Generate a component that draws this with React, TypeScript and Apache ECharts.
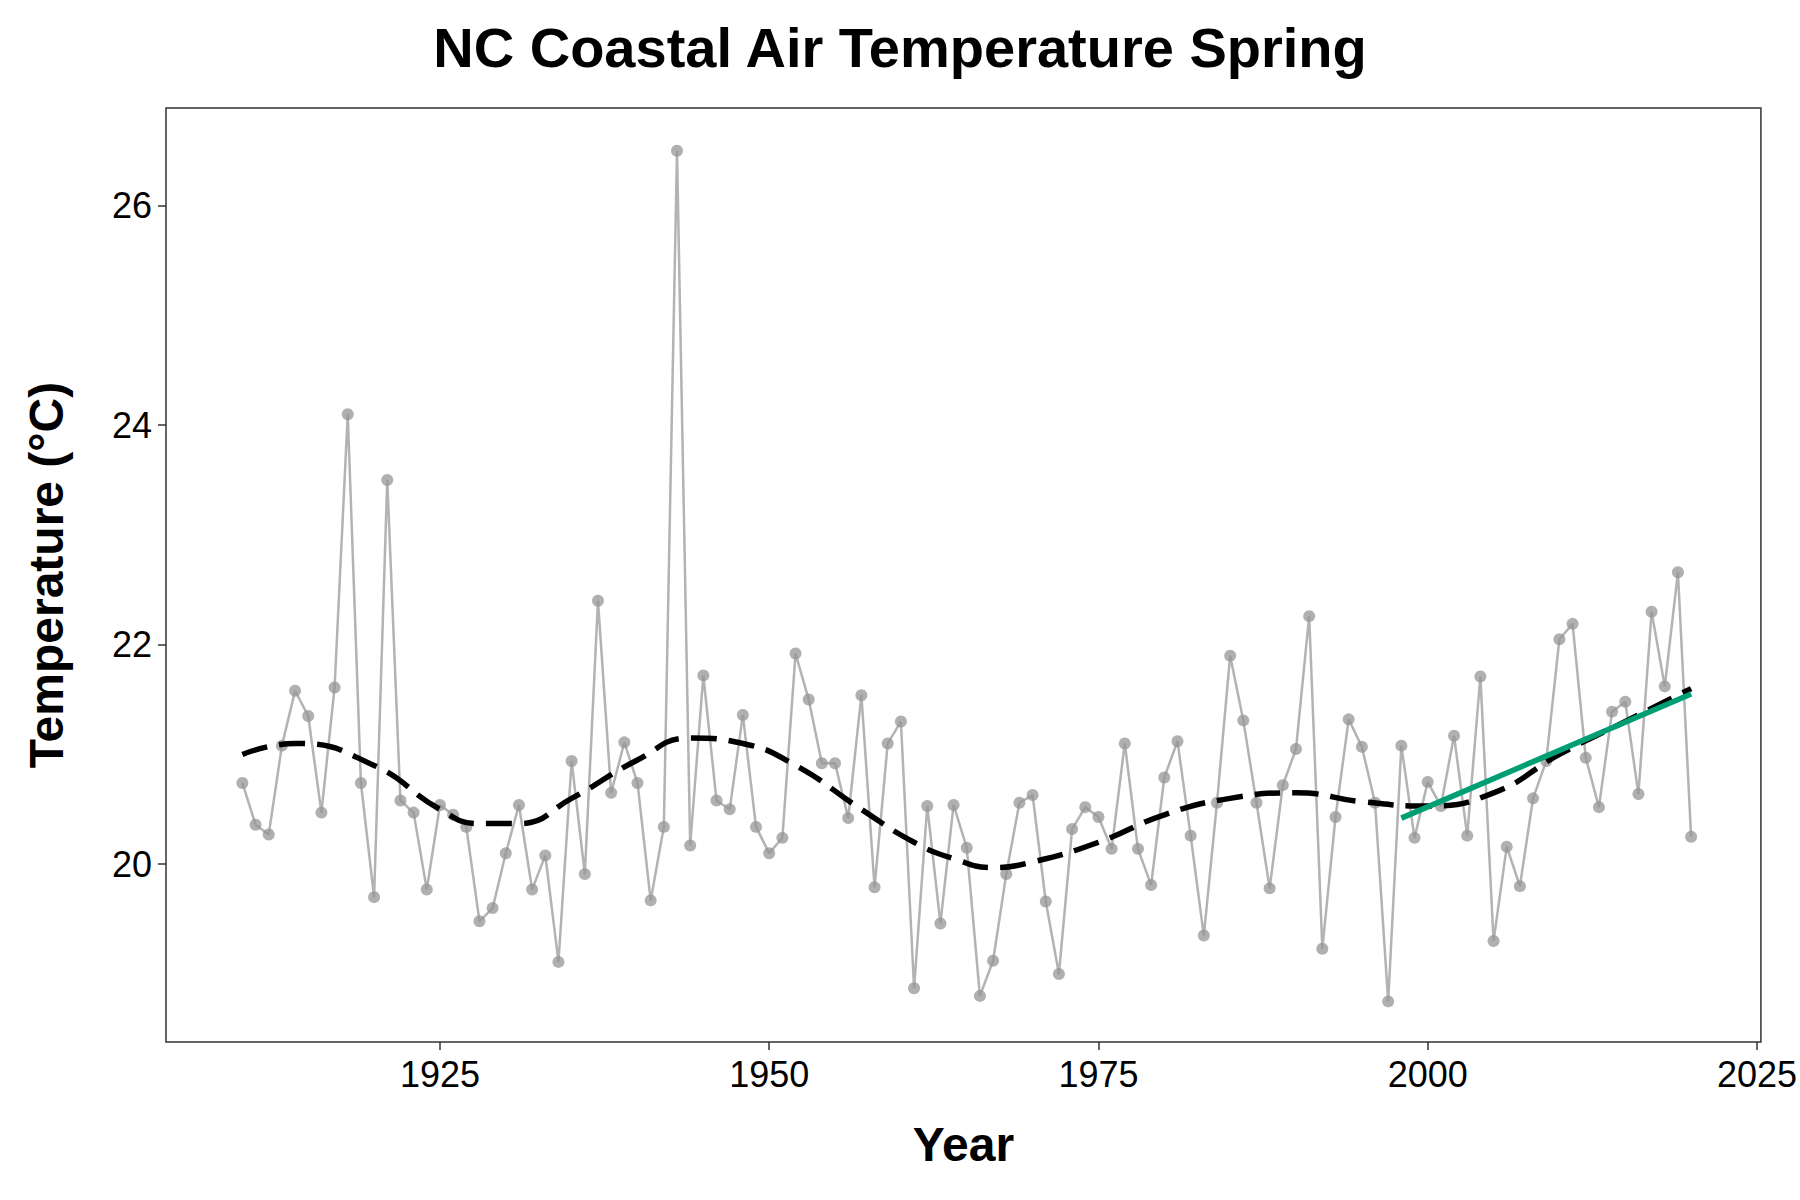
import { useEffect, useRef } from 'react';
import * as echarts from 'echarts';

const years: number[] = [];
for (let y = 1910; y <= 2020; y++) years.push(y);

const temps = [
  20.74, 20.36, 20.27, 21.08, 21.58, 21.35, 20.47, 21.61, 24.1, 20.74,
  19.7, 23.5, 20.58, 20.47, 19.77, 20.54, 20.45, 20.34, 19.48, 19.6,
  20.1, 20.54, 19.77, 20.08, 19.11, 20.94, 19.91, 22.4, 20.65, 21.11,
  20.74, 19.67, 20.34, 26.5, 20.17, 21.72, 20.58, 20.5, 21.36, 20.34,
  20.1, 20.24, 21.92, 21.5, 20.92, 20.92, 20.42, 21.54, 19.79, 21.1,
  21.3, 18.87, 20.53, 19.46, 20.54, 20.15, 18.8, 19.12, 19.91, 20.56,
  20.63, 19.66, 19.0, 20.32, 20.52, 20.43, 20.14, 21.1, 20.14, 19.81,
  20.79, 21.12, 20.26, 19.35, 20.56, 21.9, 21.31, 20.56, 19.78, 20.72,
  21.05, 22.26, 19.23, 20.43, 21.32, 21.07, 20.56, 18.75, 21.08, 20.24,
  20.75, 20.53, 21.17, 20.26, 21.71, 19.3, 20.16, 19.8, 20.6, 20.94,
  22.05, 22.19, 20.97, 20.52, 21.39, 21.48, 20.64, 22.3, 21.62, 22.66,
  20.25,
];

const smoothYears = [1910, 1914, 1920, 1925, 1928, 1931, 1935, 1940, 1944, 1948, 1952, 1957, 1961, 1964, 1967, 1970, 1975, 1980, 1985, 1990, 1995, 2000, 2005, 2010, 2015, 2020];
const smoothTemps = [21.0, 21.1, 20.9, 20.5, 20.37, 20.37, 20.6, 20.95, 21.15, 21.1, 20.9, 20.5, 20.2, 20.05, 19.97, 20.02, 20.2, 20.45, 20.6, 20.65, 20.57, 20.53, 20.65, 21.0, 21.3, 21.6];

const trendYears = [1998, 2020];
const trendTemps = [20.42, 21.55];

const xTicks = [1925, 1950, 1975, 2000, 2025];
const yTicks = [20, 22, 24, 26];

export default function App() {
  const ref = useRef<HTMLDivElement>(null);

  useEffect(() => {
    document.body.style.margin = '0';
    if (!ref.current) return;
    const chart = echarts.init(ref.current, null, { renderer: 'svg' });
    const font = 'Liberation Sans, Arial, sans-serif';
    chart.setOption({
      animation: false,
      title: {
        text: 'NC Coastal Air Temperature Spring',
        left: 'center',
        top: 14,
        textStyle: { fontFamily: font, fontSize: 56, fontWeight: 'bold', color: '#000' },
      },
      grid: { left: 166, right: 12, top: 108, bottom: 158, show: true, borderColor: '#333', borderWidth: 1.5 },
      xAxis: {
        type: 'value',
        min: 1904.2,
        max: 2025.3,
        name: 'Year',
        nameLocation: 'middle',
        nameGap: 78,
        nameTextStyle: { fontFamily: font, fontSize: 48, fontWeight: 'bold', color: '#000' },
        axisLine: { show: false },
        axisTick: { show: true, customValues: xTicks, length: 8, lineStyle: { color: '#333', width: 1.5 } },
        axisLabel: { customValues: xTicks, formatter: (v: number) => String(v), fontFamily: font, fontSize: 36, color: '#000', margin: 14, showMaxLabel: true },
        splitLine: { show: false },
      },
      yAxis: {
        type: 'value',
        min: 18.38,
        max: 26.89,
        name: 'Temperature (°C)',
        nameLocation: 'middle',
        nameGap: 96,
        nameTextStyle: { fontFamily: font, fontSize: 48, fontWeight: 'bold', color: '#000' },
        axisLine: { show: false },
        axisTick: { show: true, customValues: yTicks, length: 8, lineStyle: { color: '#333', width: 1.5 } },
        axisLabel: { customValues: yTicks, fontFamily: font, fontSize: 36, color: '#000', margin: 14 },
        splitLine: { show: false },
      },
      series: [
        {
          type: 'line',
          data: years.map((y, i) => [y, temps[i]]),
          symbol: 'circle',
          symbolSize: 12,
          itemStyle: { color: 'rgba(150,150,150,0.75)' },
          lineStyle: { color: '#b3b3b3', width: 2.5 },
          z: 2,
        },
        {
          type: 'line',
          data: smoothYears.map((y, i) => [y, smoothTemps[i]]),
          smooth: true,
          symbol: 'none',
          lineStyle: { color: '#000', width: 5.5, type: [26, 12] },
          z: 3,
        },
        {
          type: 'line',
          data: trendYears.map((y, i) => [y, trendTemps[i]]),
          symbol: 'none',
          lineStyle: { color: '#009E73', width: 5.5 },
          z: 4,
        },
      ],
    });
    return () => chart.dispose();
  }, []);

  return <div ref={ref} style={{ width: 1800, height: 1200 }} />;
}
